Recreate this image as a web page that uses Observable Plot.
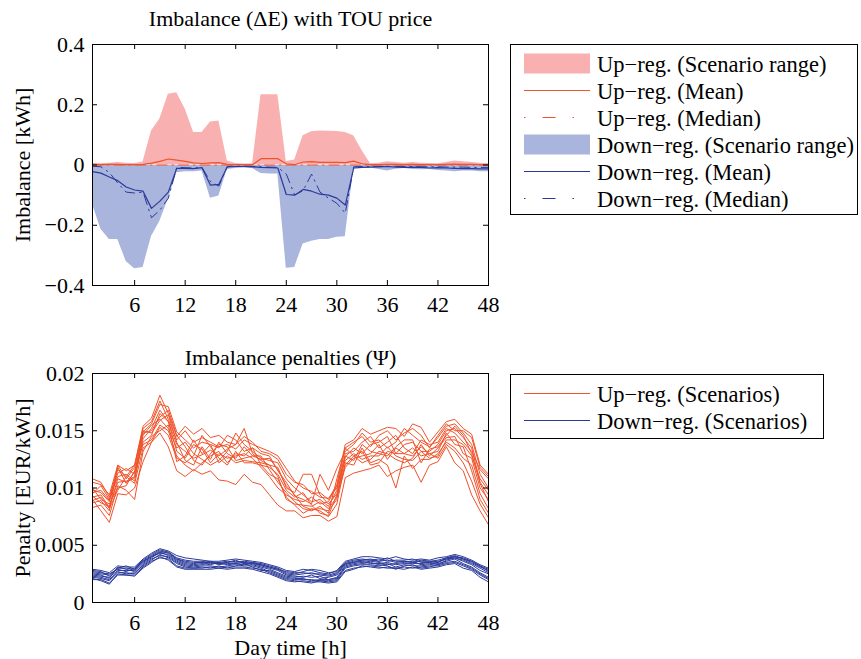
<!DOCTYPE html>
<html><head><meta charset="utf-8">
<script src="https://cdn.jsdelivr.net/npm/d3@7"></script>
<script src="https://cdn.jsdelivr.net/npm/@observablehq/plot@0.6"></script>
<style>
body{margin:0;background:#fff;}
#root{position:relative;width:861px;height:659px;font-family:"Liberation Serif","Times New Roman",serif;}
#root > svg{position:absolute;left:0;}
.legend{position:absolute;border:1.3px solid #000;background:#fff;box-sizing:border-box;}
.row{position:absolute;left:0;height:27px;width:100%;font-size:22.5px;white-space:nowrap;}
.row svg{position:absolute;left:13px;top:0;}
.row span{position:absolute;left:86px;top:1px;line-height:27px;}
</style></head><body><div id="root"></div>
<script>
// ---------- data ----------
const hours = [1,2,3,4,5,6,7,8,9,10,11,12,13,14,15,16,17,18,19,20,21,22,23,24,25,26,27,28,29,30,31,32,33,34,35,36,37,38,39,40,41,42,43,44,45,46,47,48];
const xTicks = [6,12,18,24,30,36,42,48];
const imbTicks = [-0.4,-0.2,0,0.2,0.4];
const penTicks = [0,0.005,0.01,0.015,0.02];

const upRangeMax = [0.005,0.004,0.006,0.008,0.006,0.005,0.010,0.113,0.153,0.235,0.240,0.186,0.108,0.108,0.143,0.146,0.013,0.005,0.003,0.004,0.233,0.233,0.233,0.012,0.017,0.097,0.110,0.113,0.112,0.111,0.108,0.097,0.047,0.004,0.006,0.011,0.008,0.006,0.008,0.006,0.005,0.004,0.008,0.013,0.011,0.008,0.006,0.005];
const upRangeMin = [0,0,0,0,0,0,0,0,0,0,0,0,0,0,0,0,0,0,0,0,0,0,0,0,0,0,0,0,0,0,0,0,0,0,0,0,0,0,0,0,0,0,0,0,0,0,0,0];
const upMean = [0.002,0.001,0.002,0.002,0.001,0.001,0.002,0.006,0.012,0.020,0.016,0.012,0.007,0.005,0.007,0.008,0.002,0.001,0.001,0.001,0.021,0.021,0.021,0.004,0.001,0.010,0.011,0.009,0.009,0.009,0.008,0.013,0.004,0.001,0.001,0.002,0.002,0.001,0.002,0.001,0.001,0.001,0.002,0.003,0.002,0.002,0.001,0.001];
const upMedian = [0,0,0,0,0,0,0,0,0,0,0,0,0,0,0,0,0,0,0,0,0,0,0,0,0,0,0,0,0,0,0,0,0,0,0,0,0,0,0,0,0,0,0,0,0,0,0,0];
const downRangeMin = [-0.130,-0.213,-0.247,-0.247,-0.320,-0.344,-0.340,-0.237,-0.187,-0.113,-0.026,-0.022,-0.022,-0.020,-0.110,-0.103,-0.015,-0.012,-0.010,-0.012,-0.028,-0.030,-0.030,-0.343,-0.340,-0.262,-0.253,-0.247,-0.247,-0.240,-0.238,-0.013,-0.012,-0.010,-0.015,-0.020,-0.014,-0.012,-0.015,-0.016,-0.015,-0.018,-0.020,-0.022,-0.020,-0.020,-0.022,-0.022];
const downRangeMax = [-0.002,-0.002,-0.002,-0.002,-0.002,-0.002,-0.002,-0.002,-0.002,-0.002,-0.002,-0.002,-0.002,-0.002,-0.002,-0.002,-0.002,-0.002,-0.002,-0.002,-0.002,-0.002,-0.002,-0.002,-0.002,-0.002,-0.002,-0.002,-0.002,-0.002,-0.002,-0.002,-0.002,-0.002,-0.002,-0.002,-0.002,-0.002,-0.002,-0.002,-0.002,-0.002,-0.002,-0.002,-0.002,-0.002,-0.002,-0.002];
const downMean = [-0.022,-0.027,-0.040,-0.052,-0.073,-0.083,-0.087,-0.144,-0.120,-0.090,-0.011,-0.011,-0.012,-0.009,-0.067,-0.064,-0.006,-0.005,-0.005,-0.006,-0.008,-0.009,-0.010,-0.098,-0.100,-0.081,-0.087,-0.097,-0.100,-0.110,-0.133,-0.010,-0.008,-0.007,-0.006,-0.005,-0.007,-0.008,-0.007,-0.008,-0.010,-0.009,-0.010,-0.011,-0.012,-0.012,-0.013,-0.013];
const downMedian = [-0.004,-0.006,-0.025,-0.060,-0.090,-0.093,-0.090,-0.175,-0.150,-0.110,-0.008,-0.009,-0.010,-0.008,-0.055,-0.070,-0.005,-0.004,-0.004,-0.005,-0.006,-0.007,-0.008,-0.030,-0.100,-0.085,-0.030,-0.090,-0.110,-0.127,-0.160,-0.006,-0.005,-0.005,-0.005,-0.005,-0.005,-0.005,-0.005,-0.006,-0.006,-0.006,-0.007,-0.007,-0.007,-0.008,-0.008,-0.008];

// penalty scenarios, in 1/1000 EUR/kWh
const upPenaltyScenarios = [
[10.5,10.3,9.4,12.0,11.5,12.0,15.4,16.1,18.1,16.5,14.5,15.4,14.7,15.2,14.4,14.6,14.0,13.8,14.5,14.0,13.2,13.0,12.5,11.2,10.5,10.3,9.5,9.6,9.0,10.3,13.8,14.2,15.2,14.7,15.0,15.3,15.2,14.5,15.6,15.3,14.0,14.9,15.8,16.0,15.2,14.7,12.0,11.2],
[9.8,9.6,8.8,11.3,11.7,11.2,14.9,15.6,17.3,17.1,14.9,14.2,13.5,14.0,13.8,13.5,14.6,14.2,13.2,13.5,13.0,12.8,11.5,10.5,9.3,9.0,8.6,11.2,9.8,11.7,13.2,13.8,14.8,14.0,14.2,13.5,14.0,15.2,14.6,14.0,13.6,14.4,15.4,15.6,14.8,13.8,11.2,10.0],
[9.2,9.4,8.3,10.8,10.5,10.9,14.3,15.2,16.8,15.8,13.8,13.2,12.6,12.9,13.3,12.8,13.4,13.8,15.2,13.0,12.4,12.0,11.8,10.0,9.6,11.2,11.2,9.4,8.6,9.5,12.7,13.5,13.0,13.8,14.0,14.5,13.0,13.8,14.0,13.2,13.2,13.8,15.0,15.2,14.4,13.5,10.5,9.4],
[8.7,8.9,8.0,12.0,10.8,11.8,15.0,14.8,15.9,16.4,14.0,12.4,12.0,13.6,12.5,14.0,13.0,12.6,13.6,12.8,12.8,11.6,10.5,9.6,8.8,8.2,8.0,8.4,7.8,10.8,13.5,12.8,12.2,12.5,13.2,13.0,12.5,12.2,12.6,13.8,12.8,13.5,14.4,14.5,13.0,12.6,10.0,9.0],
[10.0,9.0,8.6,10.0,10.2,11.5,13.8,14.2,15.5,15.0,12.8,12.0,11.5,12.2,12.8,13.2,12.2,13.0,12.8,13.5,12.0,11.2,10.8,9.2,8.5,7.8,8.2,8.0,7.5,8.6,12.2,12.0,13.5,12.2,12.5,12.0,10.0,12.8,11.7,12.5,12.5,13.0,14.0,13.5,12.6,12.0,9.5,8.2],
[9.0,8.0,7.0,9.5,9.4,10.0,12.3,14.0,14.8,13.6,11.5,11.0,11.6,11.2,11.5,10.7,10.6,10.3,11.2,10.5,10.3,9.4,8.5,8.0,8.0,7.4,7.6,7.6,7.1,7.5,10.9,11.3,11.5,11.7,12.0,11.0,11.5,11.8,12.0,10.5,12.0,12.3,13.6,12.2,11.5,9.4,8.0,6.8],
[9.5,10.2,9.0,11.0,11.2,10.6,14.6,15.5,16.0,15.2,13.5,14.0,13.0,12.5,12.0,12.4,13.2,14.8,13.8,13.2,12.6,12.4,12.2,10.8,10.0,9.4,8.8,9.0,8.4,9.8,13.0,13.2,14.0,14.5,13.5,14.0,14.6,13.5,13.0,14.2,13.8,14.0,15.2,14.8,14.0,13.2,11.6,10.8],
[8.3,8.5,7.6,10.2,9.8,9.0,13.2,14.5,15.0,15.5,12.3,12.8,14.2,13.0,13.8,12.2,12.8,12.2,12.4,12.3,12.2,12.0,11.0,9.0,8.6,8.5,8.4,8.8,8.2,9.2,11.8,12.6,12.8,13.0,13.8,12.5,13.5,13.0,13.5,12.8,13.0,13.2,14.8,13.8,13.6,11.5,9.0,7.8],
[10.8,10.5,9.2,11.6,11.0,12.0,15.2,15.8,17.6,16.0,14.2,15.0,14.0,14.4,14.0,13.6,13.8,13.4,14.2,13.8,13.5,13.2,12.8,11.7,10.6,10.0,9.7,9.2,9.1,10.0,13.5,14.0,14.5,13.6,14.6,15.0,14.2,14.8,15.2,14.6,13.5,14.6,15.6,15.0,15.0,14.4,11.8,11.0],
[9.3,8.7,8.4,10.5,10.6,11.0,14.0,14.6,16.5,15.8,13.2,12.6,13.8,13.4,12.2,13.0,12.6,12.8,13.0,12.6,11.8,11.0,10.0,9.4,9.0,8.8,9.2,8.6,8.8,10.2,12.4,13.0,12.5,12.8,12.8,13.6,12.8,12.5,12.4,13.2,12.6,12.8,14.2,14.2,13.8,12.8,10.8,9.8],
[9.6,9.8,8.9,11.8,10.4,11.4,14.8,15.0,16.2,16.8,14.6,13.6,12.4,12.0,13.0,13.8,13.6,12.4,12.6,12.8,12.5,12.6,11.6,10.2,9.4,8.4,8.1,8.2,8.0,9.0,12.8,12.4,13.8,13.2,13.0,12.8,13.6,14.2,14.2,12.2,13.4,13.6,14.6,15.4,14.6,13.0,10.4,8.8],
[8.9,9.2,8.2,9.8,11.0,10.4,13.5,14.0,15.3,14.6,12.6,12.2,12.8,14.6,13.6,12.6,12.0,13.2,12.2,12.2,12.0,11.8,11.2,9.8,9.2,9.6,8.5,7.8,7.6,9.4,12.0,12.8,13.2,12.0,12.2,13.2,13.0,13.0,12.8,13.6,13.0,12.6,13.8,13.2,12.2,10.6,8.6,7.4]
];
const downPenaltyScenarios = [
[2.9,2.8,2.6,3.2,3.1,3.1,3.8,4.3,4.7,4.5,4.1,3.9,3.8,3.7,3.6,3.6,3.7,3.8,3.7,3.6,3.5,3.3,3.1,2.8,2.7,2.9,2.8,2.6,2.5,2.8,3.6,3.8,4.0,4.0,3.9,3.8,4.0,3.8,3.7,3.8,3.7,3.9,4.0,4.2,4.0,3.7,3.3,3.0],
[2.6,2.5,2.4,3.0,3.0,2.9,3.6,4.1,4.5,4.3,3.8,3.6,3.5,3.5,3.6,3.4,3.5,3.6,3.5,3.4,3.3,3.1,2.9,2.5,2.4,2.5,2.6,2.4,2.3,2.5,3.4,3.6,3.7,3.8,3.6,3.7,3.5,3.6,3.5,3.6,3.6,3.7,3.9,4.1,3.8,3.5,3.1,2.8],
[2.4,2.3,2.2,2.8,2.8,2.8,3.5,4.0,4.3,4.2,3.7,3.4,3.3,3.4,3.3,3.5,3.3,3.4,3.5,3.3,3.1,2.9,2.6,2.3,2.2,2.3,2.2,2.3,2.0,2.2,3.2,3.4,3.5,3.6,3.5,3.3,3.4,3.5,3.6,3.3,3.4,3.5,3.8,3.9,3.6,3.3,2.8,2.5],
[2.2,2.1,1.9,2.6,2.6,2.5,3.3,3.8,4.1,4.0,3.5,3.2,3.1,3.2,3.2,3.1,3.2,3.3,3.2,3.2,3.0,2.7,2.4,2.1,2.0,2.0,2.0,1.9,1.9,2.0,3.0,3.2,3.3,3.3,3.2,3.4,3.1,3.3,3.2,3.2,3.3,3.4,3.6,3.8,3.4,3.1,2.6,2.2],
[2.0,2.0,1.7,2.4,2.4,2.4,3.1,3.6,3.9,3.8,3.2,3.0,3.0,3.0,3.1,3.0,3.1,3.1,3.1,3.0,2.9,2.6,2.3,2.0,1.9,1.8,1.7,1.9,1.8,1.9,2.8,3.0,3.1,3.2,3.1,3.0,3.0,3.1,3.0,3.1,3.2,3.2,3.4,3.5,3.2,2.9,2.4,2.0],
[2.7,2.6,2.5,2.9,2.7,3.0,3.7,4.2,4.6,4.4,3.9,3.7,3.6,3.6,3.4,3.5,3.6,3.5,3.6,3.5,3.4,3.2,3.0,2.6,2.5,2.7,2.9,2.8,2.6,2.7,3.5,3.7,3.8,3.7,3.8,3.6,3.7,3.7,3.8,3.5,3.5,3.6,3.8,4.0,3.9,3.6,3.2,2.9],
[2.5,2.4,2.1,3.1,2.9,2.7,3.4,3.9,4.4,4.1,3.6,3.3,3.2,3.3,3.5,3.3,3.4,3.4,3.3,3.4,3.2,3.0,2.8,2.4,2.3,2.2,2.4,2.1,2.2,2.4,3.3,3.5,3.6,3.4,3.4,3.5,3.3,3.4,3.4,3.4,3.5,3.3,3.7,3.9,3.7,3.4,3.0,2.6],
[2.3,2.2,2.0,2.7,2.5,2.6,3.2,3.7,4.2,3.9,3.4,3.1,3.0,3.1,3.0,3.2,3.0,3.2,3.4,3.1,2.8,2.8,2.5,2.2,2.1,2.1,1.9,2.0,2.0,2.1,3.1,3.3,3.4,3.5,3.3,3.2,2.9,3.2,3.3,3.0,3.1,3.3,3.5,3.6,3.3,3.0,2.5,2.1],
[2.8,2.7,2.3,3.0,3.2,2.9,3.6,4.0,4.4,4.4,3.8,3.5,3.4,3.5,3.5,3.4,3.5,3.7,3.4,3.5,3.3,3.1,2.9,2.7,2.6,2.6,2.5,2.5,2.4,2.6,3.4,3.5,3.7,3.7,3.6,3.9,3.6,3.6,3.5,3.7,3.6,3.5,3.9,4.0,3.8,3.6,3.2,2.7],
[2.1,1.9,1.6,2.5,2.4,2.3,3.0,3.5,4.0,3.7,3.1,2.9,2.9,2.9,2.9,3.0,2.9,3.0,3.0,2.9,2.7,2.5,2.2,1.9,1.8,1.9,1.8,1.8,1.7,1.8,2.7,2.9,3.2,3.1,3.0,3.1,3.0,2.9,3.1,2.9,3.0,3.1,3.3,3.4,3.0,2.8,2.2,1.8]
];

const topTitle = "Imbalance (\u0394E) with TOU price";
const bottomTitle = "Imbalance penalties (\u03A8)";
const topYLabel = "Imbalance [kWh]";
const bottomYLabel = "Penalty [EUR/kWh]";
const xLabel = "Day time [h]";
const topLegendLabels = ["Up\u2212reg. (Scenario range)","Up\u2212reg. (Mean)","Up\u2212reg. (Median)","Down\u2212reg. (Scenario range)","Down\u2212reg. (Mean)","Down\u2212reg. (Median)"];
const bottomLegendLabels = ["Up\u2212reg. (Scenarios)","Down\u2212reg. (Scenarios)"];

// ---------- styles ----------
const PINK = "#f8b1b0", LBLUE = "#a9b5dc", ORANGE = "#f0522a", BLUE = "#2b3a9a";
const DASHDOT = "10,5,1.5,5";
const FONT = '"Liberation Serif", "Times New Roman", serif';

const topRows = hours.map((t, i) => ({t, upMin: upRangeMin[i], upMax: upRangeMax[i], upMean: upMean[i], upMed: upMedian[i],
  dnMin: downRangeMin[i], dnMax: downRangeMax[i], dnMean: downMean[i], dnMed: downMedian[i]}));
const penRows = [];
upPenaltyScenarios.forEach((s, k) => s.forEach((v, i) => penRows.push({t: hours[i], v: v / 1000, id: "u" + k, kind: "up"})));
downPenaltyScenarios.forEach((s, k) => s.forEach((v, i) => penRows.push({t: hours[i], v: v / 1000, id: "d" + k, kind: "down"})));

const W = 861, ML = 92, MR = 373, PW = W - ML - MR;
const common = {width: W, marginLeft: ML, marginRight: MR,
  style: {fontFamily: FONT, fontSize: "22px", background: "transparent", overflow: "visible", color: "#000"},
  x: {domain: [1, 48], label: null}};
const centered = {lineAnchor: "middle", textAnchor: "middle"};

function frameMarks(yTicks, ph, xPad) {
  return [
    Plot.frame({stroke: "#000", strokeWidth: 1}),
    Plot.tickY(yTicks, {y: d => d, insetRight: PW - 5, stroke: "#000"}),
    Plot.tickY(yTicks, {y: d => d, insetLeft: PW - 5, stroke: "#000"}),
    Plot.tickX(xTicks, {x: d => d, insetBottom: ph - 5, stroke: "#000"}),
    Plot.tickX(xTicks, {x: d => d, insetTop: ph - 5, stroke: "#000"}),
    Plot.axisY(yTicks, {tickSize: 0, tickPadding: 8, tickFormat: d3.format(""), label: null}),
    Plot.axisX(xTicks, {tickSize: 0, tickPadding: xPad, label: null})
  ];
}

const topChart = Plot.plot({...common, height: 330, marginTop: 44, marginBottom: 45,
  y: {domain: [-0.4, 0.4], label: null},
  marks: [
    Plot.areaY(topRows, {x: "t", y1: "upMin", y2: "upMax", fill: PINK}),
    Plot.areaY(topRows, {x: "t", y1: "dnMin", y2: "dnMax", fill: LBLUE}),
    Plot.lineY(topRows, {x: "t", y: "upMed", stroke: ORANGE, strokeWidth: 1, strokeDasharray: DASHDOT}),
    Plot.lineY(topRows, {x: "t", y: "upMean", stroke: ORANGE, strokeWidth: 1.2}),
    Plot.lineY(topRows, {x: "t", y: "dnMed", stroke: BLUE, strokeWidth: 1, strokeDasharray: DASHDOT}),
    Plot.lineY(topRows, {x: "t", y: "dnMean", stroke: BLUE, strokeWidth: 1.2}),
    ...frameMarks(imbTicks, 330 - 44 - 45, 11),
    Plot.text([topTitle], {frameAnchor: "top", dy: -26, ...centered}),
    Plot.text([topYLabel], {frameAnchor: "left", dx: -70, rotate: -90, ...centered})
  ]});

const bottomChart = Plot.plot({...common, height: 329, marginTop: 43, marginBottom: 57,
  y: {domain: [0, 0.02], label: null},
  marks: [
    Plot.line(penRows.filter(d => d.kind === "up"), {x: "t", y: "v", z: "id", stroke: ORANGE, strokeWidth: 1}),
    Plot.line(penRows.filter(d => d.kind === "down"), {x: "t", y: "v", z: "id", stroke: BLUE, strokeWidth: 1}),
    ...frameMarks(penTicks, 329 - 43 - 57, 12),
    Plot.text([bottomTitle], {frameAnchor: "top", dy: -16, ...centered}),
    Plot.text([bottomYLabel], {frameAnchor: "left", dx: -70, rotate: -90, ...centered}),
    Plot.text([xLabel], {frameAnchor: "bottom", dy: 45, ...centered})
  ]});

const root = document.getElementById("root");
topChart.style.top = "0px";
bottomChart.style.top = "330px";
root.appendChild(topChart);
root.appendChild(bottomChart);

// ---------- legends ----------
function swatch(kind, color) {
  const ns = "http://www.w3.org/2000/svg";
  const s = document.createElementNS(ns, "svg");
  s.setAttribute("width", 68); s.setAttribute("height", 27);
  if (kind === "patch") {
    const r = document.createElementNS(ns, "rect");
    r.setAttribute("x", 0); r.setAttribute("y", 3.5); r.setAttribute("width", 66); r.setAttribute("height", 20);
    r.setAttribute("fill", color); s.appendChild(r);
  } else {
    const l = document.createElementNS(ns, "line");
    l.setAttribute("x1", 0); l.setAttribute("x2", 66); l.setAttribute("y1", 13.5); l.setAttribute("y2", 13.5);
    l.setAttribute("stroke", color); l.setAttribute("stroke-width", 1.2);
    if (kind === "dash") { l.setAttribute("stroke-dasharray", "1.5,17,13,17"); }
    s.appendChild(l);
  }
  return s;
}
function legend(left, topPx, w, h, labels, kinds, colors) {
  const box = document.createElement("div");
  box.className = "legend";
  Object.assign(box.style, {left: left + "px", top: topPx + "px", width: w + "px", height: h + "px"});
  labels.forEach((lab, i) => {
    const row = document.createElement("div");
    row.className = "row";
    row.style.top = (5 + 27 * i) + "px";
    row.appendChild(swatch(kinds[i], colors[i]));
    const sp = document.createElement("span");
    sp.textContent = lab;
    row.appendChild(sp);
    box.appendChild(row);
  });
  root.appendChild(box);
}
legend(510, 44, 348, 171, topLegendLabels, ["patch","line","dash","patch","line","dash"], [PINK, ORANGE, ORANGE, LBLUE, BLUE, BLUE]);
legend(510, 374, 314, 65, bottomLegendLabels, ["line","line"], [ORANGE, BLUE]);
</script>
</body></html>
